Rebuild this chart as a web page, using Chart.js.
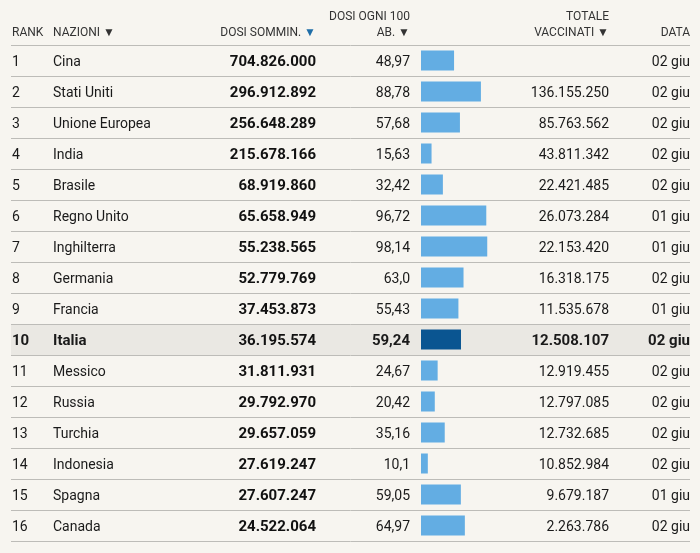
<!DOCTYPE html>
<html>
<head>
<meta charset="utf-8">
<script src="https://cdn.jsdelivr.net/npm/chart.js@4"></script>
<style>
  body { margin: 0; background: #f7f5f0; }
  #wrap { width: 700px; height: 553px; }
</style>
</head>
<body>
<div id="wrap"><canvas id="vaxTable" width="700" height="553"></canvas></div>
<script>
// table data
const ranks = [1, 2, 3, 4, 5, 6, 7, 8, 9, 10, 11, 12, 13, 14, 15, 16];
const nations = ['Cina', 'Stati Uniti', 'Unione Europea', 'India', 'Brasile', 'Regno Unito',
  'Inghilterra', 'Germania', 'Francia', 'Italia', 'Messico', 'Russia', 'Turchia',
  'Indonesia', 'Spagna', 'Canada'];
const dosesGiven = [704826000, 296912892, 256648289, 215678166, 68919860, 65658949,
  55238565, 52779769, 37453873, 36195574, 31811931, 29792970, 29657059, 27619247,
  27607247, 24522064];
const dosesPer100 = ['48,97', '88,78', '57,68', '15,63', '32,42', '96,72', '98,14', '63,0',
  '55,43', '59,24', '24,67', '20,42', '35,16', '10,1', '59,05', '64,97'];
const totalVaccinated = [null, 136155250, 85763562, 43811342, 22421485, 26073284, 22153420,
  16318175, 11535678, 12508107, 12919455, 12797085, 12732685, 10852984, 9679187, 2263786];
const dates = ['02 giu', '02 giu', '02 giu', '02 giu', '02 giu', '01 giu', '01 giu', '02 giu',
  '01 giu', '02 giu', '02 giu', '02 giu', '02 giu', '02 giu', '01 giu', '02 giu'];
const highlight = 'Italia';

const fontFam = 'Roboto, "Noto Sans", sans-serif';

function fmtIt(n) {
  if (n === null) return '';
  return String(n).replace(/\B(?=(\d{3})+(?!\d))/g, '.');
}

const tablePlugin = {
  id: 'tableText',
  beforeDraw(chart) {
    const ctx = chart.ctx;
    const y = chart.scales.y;
    const half = (y.getPixelForValue(1) - y.getPixelForValue(0)) / 2;
    ctx.save();
    ctx.fillStyle = '#f7f5f0';
    ctx.fillRect(0, 0, chart.width, chart.height);
    // highlighted row
    const hi = nations.indexOf(highlight);
    const hy = y.getPixelForValue(hi);
    ctx.fillStyle = '#eae8e3';
    ctx.fillRect(11, hy - half, 679, half * 2);
    // row separators
    ctx.strokeStyle = '#bdbcb8';
    ctx.lineWidth = 1;
    for (let i = 0; i <= nations.length; i++) {
      const ly = Math.round(y.getPixelForValue(i) - half) + 0.5;
      ctx.beginPath();
      ctx.moveTo(11, ly);
      ctx.lineTo(690, ly);
      ctx.stroke();
    }
    ctx.restore();
  },
  afterDraw(chart) {
    const ctx = chart.ctx;
    const y = chart.scales.y;
    ctx.save();
    ctx.textBaseline = 'middle';

    // header
    ctx.font = '12px ' + fontFam;
    ctx.fillStyle = '#333';
    ctx.textAlign = 'left';
    ctx.fillText('RANK', 12, 33);
    ctx.fillText('NAZIONI \u25BC', 53, 33);
    ctx.textAlign = 'right';
    ctx.fillStyle = '#1f6ea8';
    ctx.fillText('\u25BC', 316, 33);
    const triW = ctx.measureText('\u25BC').width;
    ctx.fillStyle = '#333';
    ctx.fillText('DOSI SOMMIN. ', 316 - triW, 33);
    ctx.fillText('DOSI OGNI 100', 410, 17);
    ctx.fillText('AB. \u25BC', 410, 33);
    ctx.fillText('TOTALE', 609, 17);
    ctx.fillText('VACCINATI \u25BC', 609, 33);
    ctx.fillText('DATA', 690, 33);

    // rows
    nations.forEach((name, i) => {
      const cy = y.getPixelForValue(i) + 1.5;
      const bold = name === highlight;
      const f = bold ? 'bold 15px ' + fontFam : '14px ' + fontFam;
      ctx.fillStyle = '#1a1a1a';
      ctx.font = f;
      ctx.textAlign = 'left';
      ctx.fillText(String(ranks[i]), 12, cy);
      ctx.fillText(name, 53, cy);
      ctx.textAlign = 'right';
      ctx.font = 'bold 15px ' + fontFam;
      ctx.fillStyle = '#111';
      ctx.fillText(fmtIt(dosesGiven[i]), 316, cy);
      ctx.font = f;
      ctx.fillStyle = '#1a1a1a';
      ctx.fillText(dosesPer100[i], 410, cy);
      ctx.fillText(fmtIt(totalVaccinated[i]), 609, cy);
      ctx.fillText(dates[i], 690, cy);
    });
    ctx.restore();
  }
};

new Chart(document.getElementById('vaxTable'), {
  type: 'bar',
  data: {
    labels: nations,
    datasets: [{
      data: dosesPer100.map(s => parseFloat(s.replace(',', '.'))),
      backgroundColor: nations.map(n => n === highlight ? '#0a5591' : '#63ade3'),
      barPercentage: 0.8,
      categoryPercentage: 0.81
    }]
  },
  options: {
    indexAxis: 'y',
    responsive: false,
    animation: false,
    layout: { padding: { left: 421, right: 211.5, top: 45, bottom: 12 } },
    plugins: { legend: { display: false }, tooltip: { enabled: false } },
    scales: {
      x: { display: false, min: 0, max: 100 },
      y: { display: false }
    }
  },
  plugins: [tablePlugin]
});
</script>
</body>
</html>
